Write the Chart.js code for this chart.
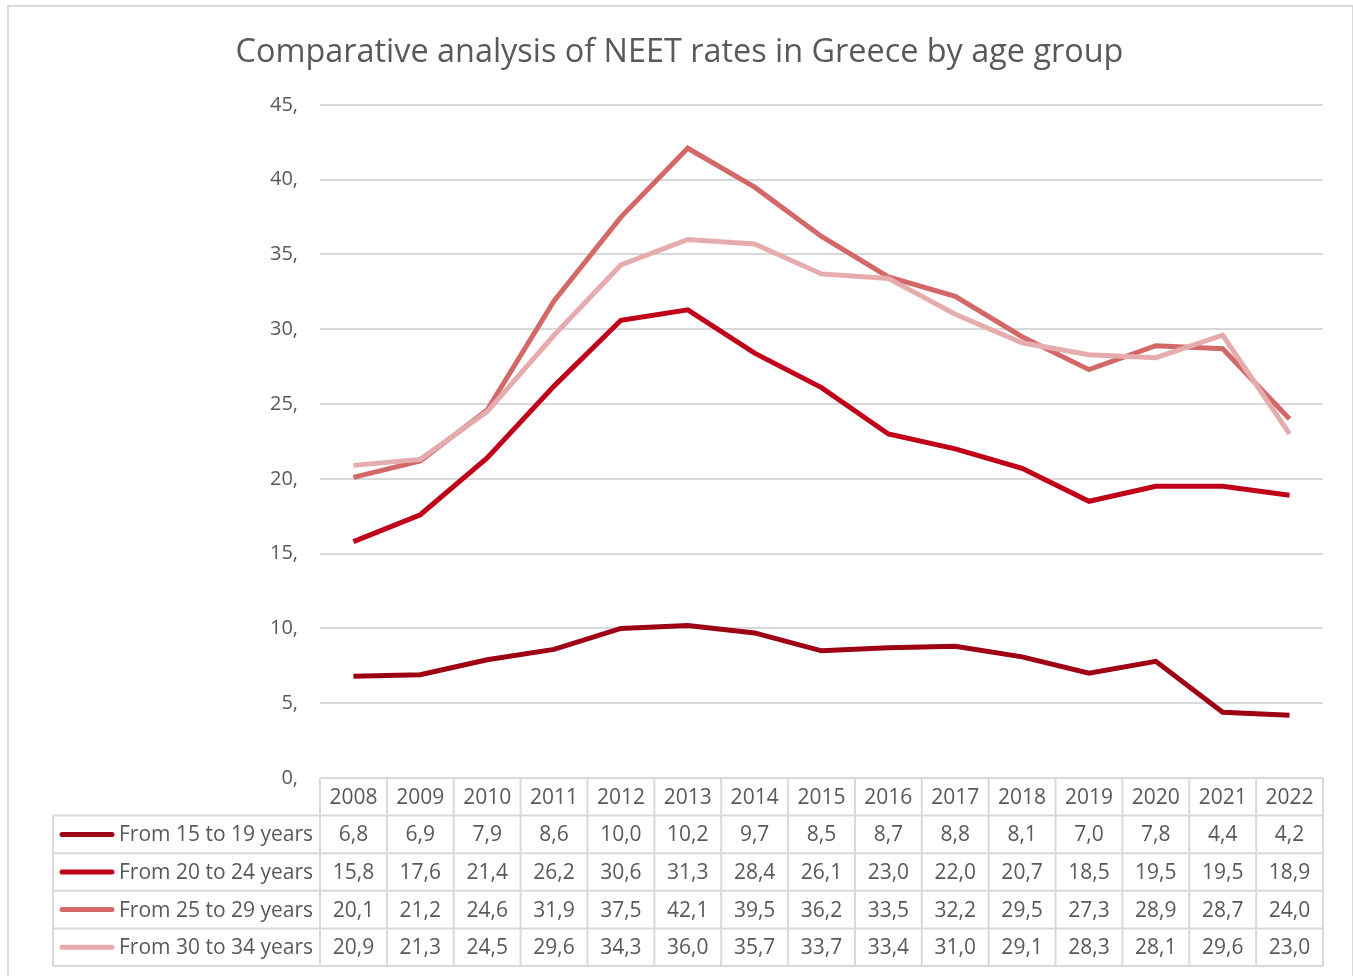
<!DOCTYPE html>
<html>
<head>
<meta charset="utf-8">
<title>NEET rates in Greece by age group</title>
<script src="https://cdn.jsdelivr.net/npm/chart.js@4.4.0/dist/chart.umd.min.js"></script>
<style>
  html, body { margin: 0; padding: 0; background: #fff; }
</style>
</head>
<body>
<canvas id="neetChart" width="1353" height="976"></canvas>
<script>
// Years and the four age groups
const years = ['2008', '2009', '2010', '2011', '2012', '2013', '2014', '2015',
               '2016', '2017', '2018', '2019', '2020', '2021', '2022'];
const ageGroups = ['From 15 to 19 years', 'From 20 to 24 years',
                   'From 25 to 29 years', 'From 30 to 34 years'];

// NEET rates (%)
const age15to19 = [6.8, 6.9, 7.9, 8.6, 10.0, 10.2, 9.7, 8.5, 8.7, 8.8, 8.1, 7.0, 7.8, 4.4, 4.2];
const age20to24 = [15.8, 17.6, 21.4, 26.2, 30.6, 31.3, 28.4, 26.1, 23.0, 22.0, 20.7, 18.5, 19.5, 19.5, 18.9];
const age25to29 = [20.1, 21.2, 24.6, 31.9, 37.5, 42.1, 39.5, 36.2, 33.5, 32.2, 29.5, 27.3, 28.9, 28.7, 24.0];
const age30to34 = [20.9, 21.3, 24.5, 29.6, 34.3, 36.0, 35.7, 33.7, 33.4, 31.0, 29.1, 28.3, 28.1, 29.6, 23.0];

const seriesValues = [age15to19, age20to24, age25to29, age30to34];
const seriesColors = ['#9e0014', '#c00018', '#d26868', '#e6acad'];

const TEXT = '#595959';
const GRID = '#d9d9d9';
const FONT = "'Open Sans', sans-serif";

// comma decimals, as in the table
function fmt(v) {
    return v.toFixed(1).replace('.', ',');
}

// outer frame of the chart
const frame = {
    id: 'frame',
    beforeDraw(chart) {
        const ctx = chart.ctx;
        ctx.save();
        ctx.fillStyle = '#fff';
        ctx.fillRect(0, 0, chart.width, chart.height);
        ctx.strokeStyle = GRID;
        ctx.lineWidth = 2;
        ctx.strokeRect(8, 6, chart.width - 8, chart.height + 10);
        ctx.restore();
    }
};

// data table under the plot, with legend keys
const dataTable = {
    id: 'dataTable',
    afterDraw(chart) {
        const { ctx, chartArea } = chart;
        const x = chart.scales.x;
        const rowH = 37.6;
        const tableLeft = 53;
        const colW = (chartArea.right - chartArea.left) / years.length;
        const top = chartArea.bottom;
        const bottom = top + rowH * (ageGroups.length + 1);

        ctx.save();
        ctx.strokeStyle = GRID;
        ctx.lineWidth = 2;

        // horizontal rules
        ctx.beginPath();
        ctx.moveTo(chartArea.left, top);
        ctx.lineTo(chartArea.right, top);
        for (let r = 1; r <= ageGroups.length + 1; r++) {
            const y = top + r * rowH;
            ctx.moveTo(tableLeft, y);
            ctx.lineTo(chartArea.right, y);
        }
        // vertical rules
        ctx.moveTo(tableLeft, top + rowH);
        ctx.lineTo(tableLeft, bottom);
        for (let c = 0; c <= years.length; c++) {
            const xx = chartArea.left + c * colW;
            ctx.moveTo(xx, top);
            ctx.lineTo(xx, bottom);
        }
        ctx.stroke();

        ctx.fillStyle = TEXT;
        ctx.font = '21px ' + FONT;
        ctx.textBaseline = 'middle';
        ctx.textAlign = 'center';

        // year header
        years.forEach((yr, i) => {
            ctx.fillText(yr, x.getPixelForValue(i), top + rowH / 2 + 1);
        });

        // series rows
        seriesValues.forEach((vals, s) => {
            const cy = top + rowH * (s + 1.5) + 1;
            vals.forEach((v, i) => {
                ctx.textAlign = 'center';
                ctx.fillText(fmt(v), x.getPixelForValue(i), cy);
            });

            ctx.strokeStyle = seriesColors[s];
            ctx.lineWidth = 5;
            ctx.lineCap = 'round';
            ctx.beginPath();
            ctx.moveTo(62, cy - 1);
            ctx.lineTo(112, cy - 1);
            ctx.stroke();

            ctx.textAlign = 'left';
            ctx.fillText(ageGroups[s], 119, cy);
        });
        ctx.restore();
    }
};

const ctx = document.getElementById('neetChart').getContext('2d');
new Chart(ctx, {
    type: 'line',
    data: {
        labels: years,
        datasets: ageGroups.map((name, i) => ({
            label: name,
            data: seriesValues[i],
            borderColor: seriesColors[i],
            backgroundColor: seriesColors[i],
            borderWidth: 5,
            pointRadius: 0,
            tension: 0,
            order: ageGroups.length - i
        }))
    },
    options: {
        responsive: false,
        animation: false,
        layout: {
            padding: { top: 8, right: 30, bottom: 198, left: 36 }
        },
        plugins: {
            legend: { display: false },
            tooltip: { enabled: false },
            title: {
                display: true,
                text: 'Comparative analysis of NEET rates in Greece by age group',
                color: TEXT,
                font: { family: FONT, size: 32.4, weight: 'normal' },
                padding: { top: 25, bottom: 33 }
            }
        },
        scales: {
            x: {
                display: false,
                offset: true
            },
            y: {
                min: 0,
                max: 45,
                border: { display: false },
                grid: { color: GRID, lineWidth: 2, drawTicks: false },
                ticks: {
                    stepSize: 5,
                    padding: 22,
                    color: TEXT,
                    font: { family: FONT, size: 20 },
                    callback: v => v + ','
                },
                afterFit(scale) {
                    scale.width = 284;
                }
            }
        }
    },
    plugins: [frame, dataTable]
});
</script>
</body>
</html>
